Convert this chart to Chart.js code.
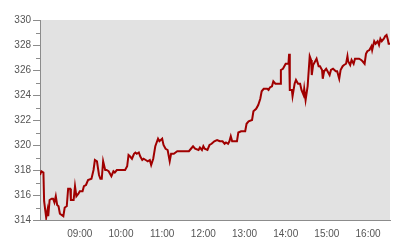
<!DOCTYPE html>
<html>
<head>
<meta charset="utf-8">
<script src="https://cdn.jsdelivr.net/npm/chart.js@4/dist/chart.umd.min.js"></script>
<style>
  html, body { margin: 0; padding: 0; background: #fff; }
  canvas { display: block; }
</style>
</head>
<body>
<canvas id="priceChart" width="400" height="240"></canvas>
<script>
// intraday prices
var times = ['08:02','08:04','08:07','08:08','08:11','08:13','08:14','08:16','08:19','08:21',
  '08:23','08:25','08:27','08:29','08:31','08:36','08:38','08:41','08:43','08:46',
  '08:47','08:51','08:53','08:55','08:58','09:00','09:04','09:06','09:09','09:12',
  '09:17','09:20','09:22','09:25','09:28','09:30','09:32','09:34','09:37','09:39',
  '09:42','09:44','09:46','09:49','09:51','09:54','09:59','10:06','10:09','10:11',
  '10:13','10:16','10:19','10:21','10:23','10:26','10:28','10:31','10:33','10:36',
  '10:39','10:42','10:44','10:47','10:50','10:54','10:56','11:00','11:02','11:05',
  '11:08','11:11','11:13','11:17','11:22','11:27','11:31','11:39','11:42','11:45',
  '11:48','11:53','11:55','11:58','12:00','12:02','12:06','12:09','12:12','12:16',
  '12:20','12:24','12:28','12:31','12:33','12:36','12:38','12:40','12:42','12:49',
  '12:51','12:55','13:01','13:03','13:06','13:11','13:13','13:17','13:20','13:23',
  '13:25','13:28','13:33','13:35','13:37','13:40','13:42','13:45','13:52','13:53',
  '13:56','13:58','14:00','14:04','14:05','14:06','14:09','14:10','14:13','14:15',
  '14:18','14:21','14:23','14:26','14:27','14:29','14:32','14:35','14:37','14:38',
  '14:40','14:43','14:45','14:48','14:50','14:53','14:54','14:56','14:59','15:01',
  '15:04','15:06','15:09','15:11','15:13','15:15','15:18','15:20','15:23','15:25',
  '15:28','15:30','15:31','15:34','15:36','15:39','15:41','15:45','15:47','15:50',
  '15:52','15:55','15:57','15:59','16:02','16:05','16:06','16:09','16:11','16:14',
  '16:16','16:18','16:20','16:23','16:25','16:27','16:29','16:30','16:32'];

var prices = [317.6,317.9,317.8,315.5,314.2,314.8,314.3,315.6,315.7,315.7,
  315.4,315.9,315.2,315.1,314.5,314.3,315.0,315.1,316.5,316.5,
  315.6,315.6,316.7,315.9,316.1,316.3,316.3,316.7,316.8,317.2,
  317.3,318.0,318.8,318.7,317.6,317.3,317.3,318.7,318.0,318.0,
  317.9,317.7,317.5,317.9,317.8,318.0,318.0,318.0,318.3,319.2,
  319.1,318.9,319.3,319.4,319.3,319.4,319.1,318.8,318.9,318.8,
  318.7,318.8,318.4,318.9,319.9,320.5,320.3,320.5,320.0,319.7,
  319.6,318.7,319.3,319.3,319.5,319.5,319.5,319.5,319.7,319.9,
  319.7,319.6,319.8,319.6,319.9,319.7,319.6,320.0,320.1,320.3,
  320.4,320.3,320.3,320.1,320.2,320.1,320.3,320.7,320.3,320.3,
  321.0,321.1,321.1,321.7,321.9,322.0,322.7,322.9,323.2,323.7,
  324.3,324.5,324.5,324.4,324.6,324.7,325.1,324.9,324.9,326.0,
  326.1,326.3,326.5,326.5,327.3,324.4,324.4,323.9,324.9,325.2,
  324.9,324.9,324.4,324.0,324.5,323.6,324.7,327.1,326.8,325.6,
  326.4,326.7,326.9,326.3,326.3,326.0,325.3,325.9,326.1,325.9,
  325.6,326.0,326.1,326.0,325.9,325.9,325.3,326.0,326.3,326.4,
  326.5,327.1,326.7,326.4,326.8,326.5,326.9,326.9,326.9,326.8,
  326.7,326.5,327.3,327.5,327.6,327.9,327.6,328.3,328.1,328.3,
  328.0,328.5,328.3,328.5,328.7,328.8,328.4,328.1,328.1];

var xStart = '08:02', xEnd = '16:32';
var xTickLabels = ['09:00','10:00','11:00','12:00','13:00','14:00','15:00','16:00'];
var yMin = 314, yMax = 330;

function toMinutes(s) {
  var p = s.split(':');
  return parseInt(p[0]) * 60 + parseInt(p[1]);
}

var points = times.map(function(t, i) { return {x: toMinutes(t), y: prices[i]}; });

var axisColor = '#8c8c8c';
var labelColor = '#555555';

// grey plot area
var plotBackground = {
  id: 'plotBackground',
  beforeDraw: function(chart) {
    var a = chart.chartArea, ctx = chart.ctx;
    ctx.save();
    ctx.fillStyle = '#e2e2e2';
    ctx.fillRect(a.left, a.top, a.right - a.left, a.bottom - a.top);
    ctx.restore();
  }
};

// short ticks for the odd values on the y axis
var minorTicks = {
  id: 'minorTicks',
  afterDraw: function(chart) {
    var y = chart.scales.y, ctx = chart.ctx;
    ctx.save();
    ctx.strokeStyle = axisColor;
    ctx.lineWidth = 1;
    for (var v = yMin + 1; v < yMax; v += 2) {
      var py = Math.round(y.getPixelForValue(v)) + 0.5;
      ctx.beginPath();
      ctx.moveTo(y.right - 4, py);
      ctx.lineTo(y.right, py);
      ctx.stroke();
    }
    ctx.restore();
  }
};

var ctx = document.getElementById('priceChart').getContext('2d');

var priceChart = new Chart(ctx, {
  type: 'line',
  data: {
    datasets: [{
      data: points,
      borderColor: '#a00000',
      borderWidth: 2,
      pointRadius: 0,
      tension: 0,
      fill: false
    }]
  },
  options: {
    responsive: false,
    animation: false,
    layout: { padding: { top: 20, right: 10, left: 0, bottom: 0 } },
    plugins: {
      legend: { display: false },
      tooltip: { enabled: false }
    },
    scales: {
      x: {
        type: 'linear',
        min: toMinutes(xStart),
        max: toMinutes(xEnd),
        afterBuildTicks: function(scale) {
          scale.ticks = xTickLabels.map(function(l) { return {value: toMinutes(l)}; });
        },
        afterFit: function(scale) { scale.height = 20; },
        grid: { display: true, drawOnChartArea: false, drawTicks: false },
        border: { display: true, color: axisColor, width: 1 },
        ticks: {
          autoSkip: false,
          maxRotation: 0,
          padding: 8,
          color: labelColor,
          font: { family: 'Liberation Sans, Arial, sans-serif', size: 10 },
          callback: function(v) {
            var h = Math.floor(v / 60), m = v % 60;
            return (h < 10 ? '0' : '') + h + ':' + (m < 10 ? '0' : '') + m;
          }
        }
      },
      y: {
        min: yMin,
        max: yMax,
        afterBuildTicks: function(scale) {
          var t = [];
          for (var v = yMin; v <= yMax; v += 2) t.push({value: v});
          scale.ticks = t;
        },
        afterFit: function(scale) { scale.width = 40; },
        grid: { display: true, drawOnChartArea: false, drawTicks: true, tickLength: 7, color: axisColor },
        border: { display: true, color: axisColor, width: 1 },
        ticks: {
          autoSkip: false,
          padding: 2,
          color: labelColor,
          font: { family: 'Liberation Sans, Arial, sans-serif', size: 10 }
        }
      }
    }
  },
  plugins: [plotBackground, minorTicks]
});
</script>
</body>
</html>
